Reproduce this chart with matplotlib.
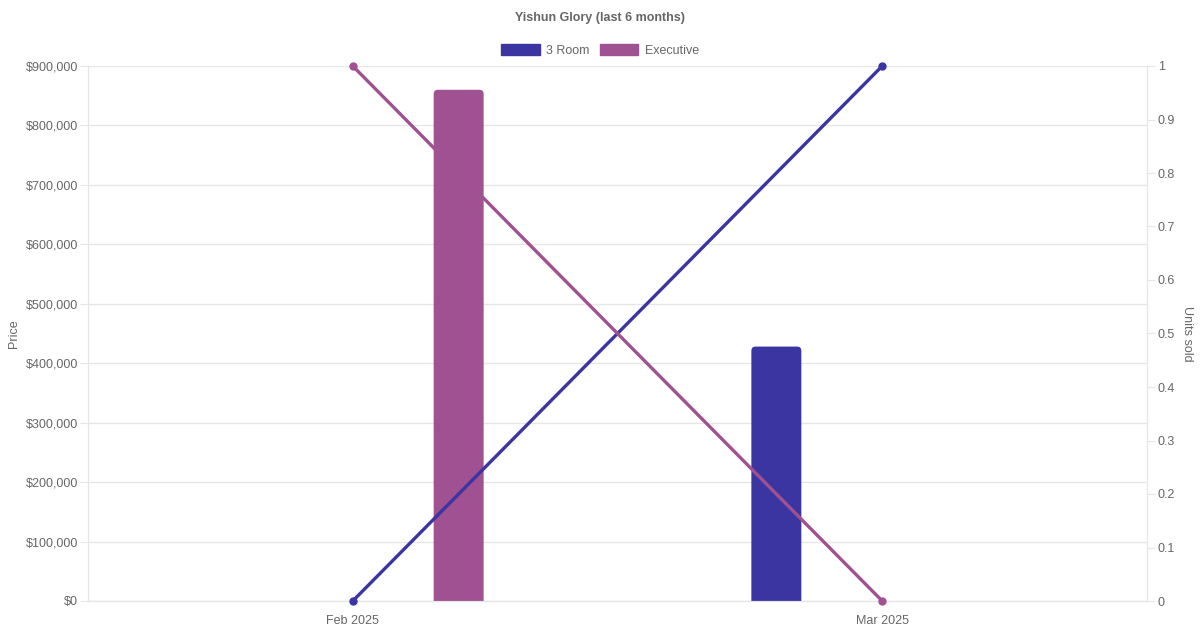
import matplotlib
matplotlib.use("Agg")
import matplotlib.pyplot as plt
from matplotlib.patches import FancyBboxPatch, Patch
from matplotlib.ticker import FuncFormatter, MultipleLocator

plt.rcParams['font.family'] = ['Liberation Sans', 'DejaVu Sans']

months = ['Feb 2025', 'Mar 2025']
room3_price = [0, 428000]
exec_price = [860000, 0]
room3_units = [0, 1]
exec_units = [1, 0]

c_room3 = '#3a35a0'
c_exec = '#a05192'
txt = '#666666'
grid = '#e6e6e6'

fig = plt.figure(figsize=(12, 6.3), dpi=100)
ax = fig.add_axes([88 / 1200, 29 / 630, 1059 / 1200, 535 / 630])
ax2 = ax.twinx()

x = list(range(len(months)))
bw = 0.0944
off = 0.2

# bars with slightly rounded tops
def rbar(xc, h, col):
    if h <= 0:
        return
    asp = (900000 / 535) / (2.0 / 1059)
    p = FancyBboxPatch((xc - bw / 2, -20000), bw, h + 20000,
                       boxstyle='round,pad=0,rounding_size=0.008',
                       mutation_aspect=asp, fc=col, ec='none', zorder=2)
    ax.add_patch(p)

for i in x:
    rbar(i - off, room3_price[i], c_room3)
    rbar(i + off, exec_price[i], c_exec)

ax.set_xlim(-0.5, 1.5)
ax.set_ylim(0, 900000)
ax2.set_ylim(0, 1)

ax2.plot(x, room3_units, color=c_room3, lw=2.4, marker='o', ms=5, zorder=3, clip_on=False)
ax2.plot(x, exec_units, color=c_exec, lw=2.4, marker='o', ms=5, zorder=3, clip_on=False)

ax.yaxis.set_major_locator(MultipleLocator(100000))
ax.yaxis.set_major_formatter(FuncFormatter(lambda v, p: '${:,.0f}'.format(v)))
ax2.yaxis.set_major_locator(MultipleLocator(0.1))
ax2.yaxis.set_major_formatter(FuncFormatter(lambda v, p: '{:g}'.format(round(v, 1))))
ax.set_xticks(x)
ax.set_xticklabels(months)

ax.grid(axis='y', color=grid, lw=1)
ax.set_axisbelow(True)
ax.tick_params(axis='y', length=5.8, color=grid, labelsize=9, labelcolor=txt, pad=1.5)
ax.tick_params(axis='x', length=0, labelsize=9, labelcolor=txt, pad=10)
ax2.tick_params(axis='y', length=5.8, color=grid, labelsize=9, labelcolor=txt, pad=2)

for a in (ax, ax2):
    for s in a.spines.values():
        s.set_color(grid)
ax.spines['bottom'].set_color('#cccccc')
ax.spines['top'].set_visible(False)
ax2.spines['top'].set_visible(False)

ax.set_ylabel('Price', fontsize=9, color=txt, labelpad=4)
ax2.set_ylabel('Units sold', fontsize=9, color=txt, rotation=270, labelpad=13)

fig.text(0.5, 1 - 18.5 / 630, 'Yishun Glory (last 6 months)', ha='center', va='center',
         fontsize=9, fontweight='bold', color=txt)

handles = [Patch(fc=c_room3, ec=c_room3), Patch(fc=c_exec, ec=c_exec)]
fig.legend(handles, ['3 Room', 'Executive'], loc='center', bbox_to_anchor=(0.5, 1 - 50.5 / 630),
           ncol=2, frameon=False, fontsize=9, labelcolor=txt, handlelength=3.1,
           handleheight=0.9, handletextpad=0.5, columnspacing=0.8)

fig.savefig('out.png', dpi=100)
